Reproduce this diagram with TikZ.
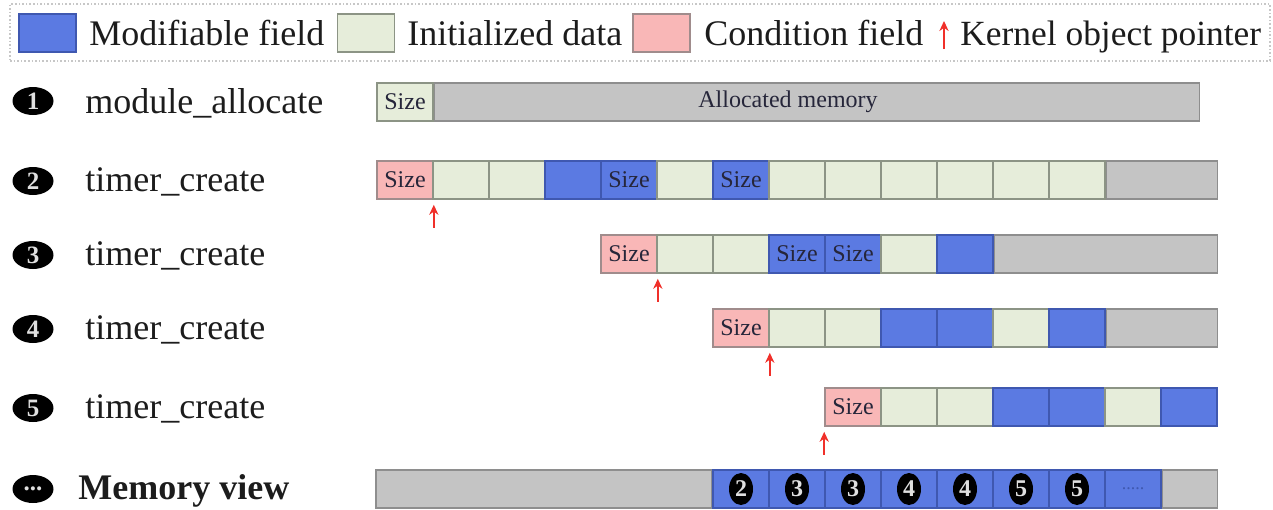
\documentclass[tikz,border=0pt]{standalone}
\usepackage{fontspec}
\setmainfont{Liberation Serif}
\usetikzlibrary{shapes.geometric,arrows.meta}
\definecolor{modfill}{HTML}{5B7AE2}
\definecolor{modline}{HTML}{3F58B0}
\definecolor{initfill}{HTML}{E6EDDA}
\definecolor{initline}{HTML}{8C9485}
\definecolor{condfill}{HTML}{F9B7B7}
\definecolor{condline}{HTML}{A08C8C}
\definecolor{freefill}{HTML}{C4C4C4}
\definecolor{freeline}{HTML}{8E8E8E}
\definecolor{txt}{HTML}{1C1C1C}
\definecolor{celltxt}{HTML}{26263A}
\definecolor{ptrred}{HTML}{F0302A}
\begin{document}
\begin{tikzpicture}[x=0.5pt,y=-0.5pt,
  cell/.style={rectangle,inner sep=0pt,minimum width=28pt,minimum height=19pt,line width=0.8pt,
    font=\fontsize{12}{12}\selectfont,text=celltxt},
  fmod/.style={fill=modfill,draw=modline},
  finit/.style={fill=initfill,draw=initline},
  fcond/.style={fill=condfill,draw=condline},
  ffree/.style={fill=freefill,draw=freeline},
  swatch/.style={rectangle,inner sep=0pt,minimum width=28.5pt,minimum height=19pt,line width=0.8pt},
  lgtext/.style={inner sep=0pt,anchor=base west,font=\fontsize{18}{20}\selectfont,text=txt},
  rowtext/.style={inner sep=0pt,anchor=base west,font=\fontsize{18}{20}\selectfont,text=txt},
  rbul/.style={ellipse,fill=black,inner sep=0pt,minimum width=20.5pt,minimum height=14pt,
    text=white!88!black,font=\fontsize{12.5}{12.5}\bfseries\selectfont},
  mbul/.style={ellipse,fill=black,inner sep=0pt,minimum width=12pt,minimum height=16pt,
    text=white!88!black,font=\fontsize{12}{12}\bfseries\selectfont},
  ptr/.style={draw=ptrred,line width=1.2pt,-{Stealth[length=5pt,width=4.6pt]}},
  legendbox/.style={rectangle,draw=black!22,densely dotted,line width=0.8pt,inner sep=0pt,
    minimum width=630pt,minimum height=28.5pt}
]
\useasboundingbox (0,0) rectangle (1273,509);

% ---------- legend ----------
\node[legendbox] (legend) at (640,32.5) {};
\node[swatch,fmod] (sw1) at (47.5,33) {};
\node[lgtext] (lt1) at (89,45) {Modifiable field};
\node[swatch,finit] (sw2) at (366,33) {};
\node[lgtext] (lt2) at (407,45) {Initialized data};
\node[swatch,fcond] (sw3) at (661.5,33) {};
\node[lgtext] (lt3) at (704,45) {Condition field};
\coordinate (lpa) at (944,49);
\coordinate (lpb) at (944,21);
\draw[ptr] (lpa) -- (lpb);
\node[lgtext,font=\fontsize{17.7}{20}\selectfont] (lt4) at (960,45) {Kernel object pointer};

% ---------- row 1 ----------
\node[rbul] (b1) at (33,101) {1};
\node[rowtext] (l1) at (85,113) {module\_allocate};
\node[cell,finit] (r1c0) at (405,102) {Size};
\node[cell,ffree,minimum width=382.5pt,anchor=west] (r1tail) at (r1c0.east) {};
\node[inner sep=0pt,font=\fontsize{12}{12}\selectfont,text=celltxt] (r1lab) at (788,102) {Allocated memory};

% ---------- row 2 ----------
\node[rbul] (b2) at (33,181) {2};
\node[rowtext] (l2) at (85,191) {timer\_create};
\foreach \t/\l [count=\i from 0] in {fcond/Size,finit/{},finit/{},fmod/{},fmod/Size,finit/{},fmod/Size,finit/{},finit/{},finit/{},finit/{},finit/{},finit/{}}{
  \node[cell,\t] (r2c\i) at ({405+56*\i},180) {\l};
}
\node[cell,ffree,minimum width=55.5pt,anchor=west] (r2tail) at (r2c12.east) {};
\draw[ptr] ([yshift=-14pt]r2c0.south east) -- ([yshift=-2.5pt]r2c0.south east);

% ---------- row 3 ----------
\node[rbul] (b3) at (33,255) {3};
\node[rowtext] (l3) at (85,265) {timer\_create};
\foreach \t/\l [count=\i from 0] in {fcond/Size,finit/{},finit/{},fmod/Size,fmod/Size,finit/{},fmod/{}}{
  \node[cell,\t] (r3c\i) at ({405+56*(\i+4)},254) {\l};
}
\node[cell,ffree,minimum width=111.5pt,anchor=west] (r3tail) at (r3c6.east) {};
\draw[ptr] ([yshift=-14pt]r3c0.south east) -- ([yshift=-2.5pt]r3c0.south east);

% ---------- row 4 ----------
\node[rbul] (b4) at (33,329) {4};
\node[rowtext] (l4) at (85,339) {timer\_create};
\foreach \t/\l [count=\i from 0] in {fcond/Size,finit/{},finit/{},fmod/{},fmod/{},finit/{},fmod/{}}{
  \node[cell,\t] (r4c\i) at ({405+56*(\i+6)},328) {\l};
}
\node[cell,ffree,minimum width=55.5pt,anchor=west] (r4tail) at (r4c6.east) {};
\draw[ptr] ([yshift=-14pt]r4c0.south east) -- ([yshift=-2.5pt]r4c0.south east);

% ---------- row 5 ----------
\node[rbul] (b5) at (33,408) {5};
\node[rowtext] (l5) at (85,418) {timer\_create};
\foreach \t/\l [count=\i from 0] in {fcond/Size,finit/{},finit/{},fmod/{},fmod/{},finit/{},fmod/{}}{
  \node[cell,\t] (r5c\i) at ({405+56*(\i+8)},407) {\l};
}
\draw[ptr] ([yshift=-14pt]r5c0.south west) -- ([yshift=-2.5pt]r5c0.south west);

% ---------- memory view ----------
\node[rbul] (b6) at (33,489) {...};
\node[rowtext,font=\fontsize{18}{20}\bfseries\selectfont] (l6) at (78,499) {Memory view};
\node[cell,ffree,minimum width=168pt,anchor=east] (mhead) at (713,489) {};
\foreach \l [count=\i from 0] in {2,3,3,4,4,5,5}{
  \node[cell,fmod] (m\i) at ({405+56*(\i+6)},489) {};
  \node[mbul] (mb\i) at (m\i) {\l};
}
\node[cell,fmod,font=\fontsize{9}{9}\selectfont,text=modline] (m7) at ({405+56*13},489) {.....};
\node[cell,ffree,minimum width=27.5pt,anchor=west] (mtail) at (m7.east) {};
\end{tikzpicture}
\end{document}
